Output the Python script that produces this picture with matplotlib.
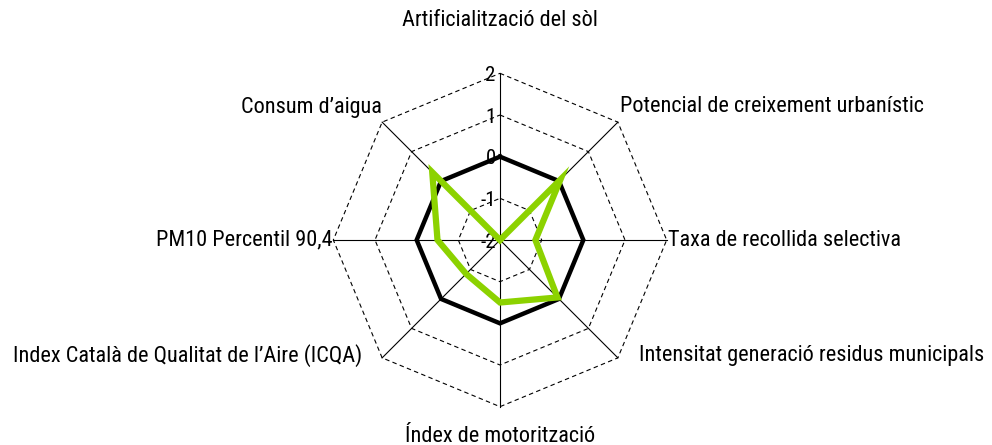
import numpy as np
import matplotlib.pyplot as plt

# eixos del radar (en sentit horari des de dalt)
categories = [
    "Artificialització del sòl",
    "Potencial de creixement urbanístic",
    "Taxa de recollida selectiva",
    "Intensitat generació residus municipals",
    "Índex de motorització",
    "Index Català de Qualitat de l’Aire (ICQA)",
    "PM10 Percentil 90,4",
    "Consum d’aigua",
]
reference = [0, 0, 0, 0, 0, 0, 0, 0]
municipi = [-2.0, 0.05, -1.15, -0.05, -0.5, -0.85, -0.5, 0.3]
levels = [-2, -1, 0, 1, 2]

plt.rcParams['font.family'] = ['Roboto Condensed', 'DejaVu Sans']

n = len(categories)
ang = np.pi / 2 - np.arange(n) * 2 * np.pi / n
vmin = levels[0]


def to_xy(vals):
    r = np.asarray(vals, dtype=float) - vmin
    r = np.append(r, r[0])
    a = np.append(ang, ang[0])
    return r * np.cos(a), r * np.sin(a)


fig = plt.figure(figsize=(9.92, 4.45), dpi=100)
ax = fig.add_axes([0, 0, 1, 1])
u = 41.67  # px per unitat
ax.set_xlim(-500 / u, 492 / u)
ax.set_ylim(-205 / u, 240 / u)
ax.axis('off')

rmax = levels[-1] - vmin
# radis
for a in ang:
    ax.plot([0, rmax * np.cos(a)], [0, rmax * np.sin(a)], color='black', lw=0.8, zorder=1)
# octògons
for lv in levels[1:]:
    x, y = to_xy([lv] * n)
    ax.plot(x, y, color='black', lw=0.8, ls=(0, (4, 3)), zorder=1)
# etiquetes dels nivells
for lv in levels:
    ax.text(-0.1, lv - vmin - 0.05, str(lv), ha='right', va='center', fontsize=15, zorder=3)

x, y = to_xy(reference)
ax.plot(x, y, color='black', lw=3.2, zorder=4, solid_joinstyle='miter')
x, y = to_xy(municipi)
ax.plot(x, y, color='#8cd200', lw=4.5, zorder=5, solid_joinstyle='miter')

# posició de les etiquetes dels eixos (px respecte al centre)
label_pos = [
    (0, 220, 'center'),
    (120, 133, 'left'),
    (168, 0, 'left'),
    (139, -116, 'left'),
    (0, -196, 'center'),
    (-138, -116, 'right'),
    (-167, 0, 'right'),
    (-118, 133, 'right'),
]
for lab, (dx, dy, ha) in zip(categories, label_pos):
    ax.text(dx / u, dy / u, lab, ha=ha, va='center', fontsize=16)

fig.savefig("out.png", dpi=100)
